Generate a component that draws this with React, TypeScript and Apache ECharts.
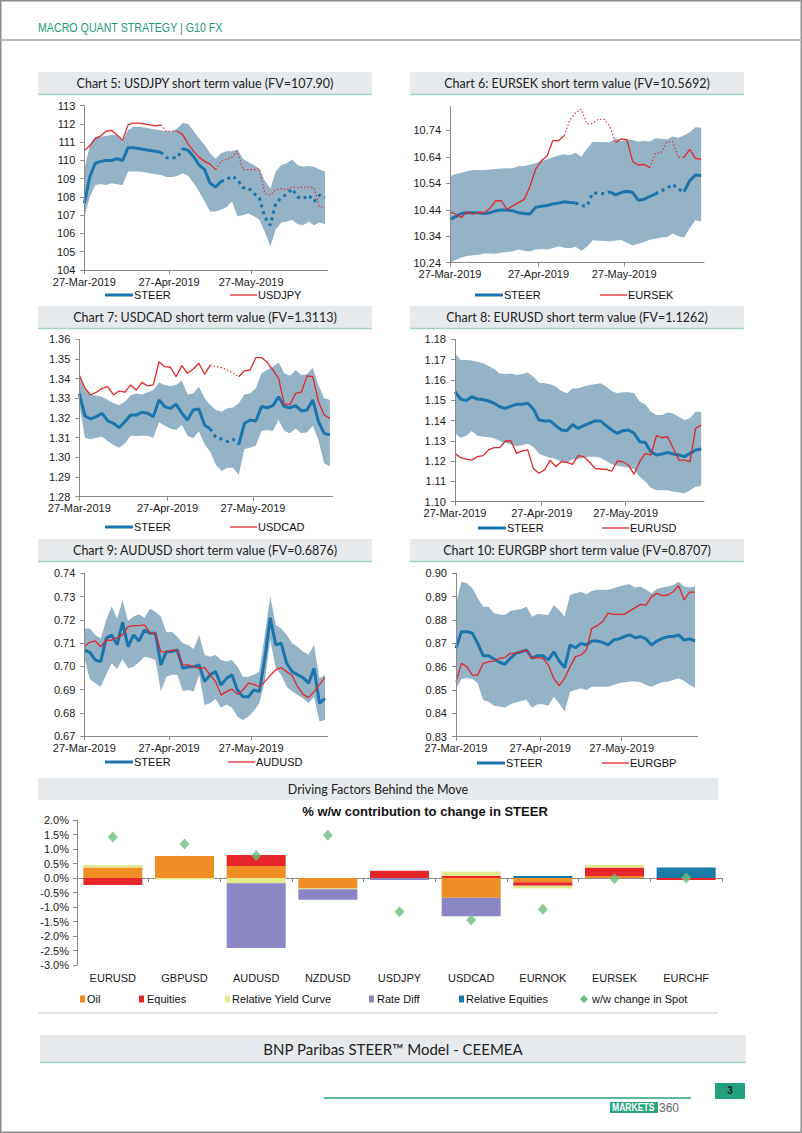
import React, { useEffect, useRef } from "react";
import * as echarts from "echarts";

// ---------- shared x sampling (days since 27-Mar-2019) ----------
const DAYS = [0, 2, 4, 6, 8, 10, 12, 14, 16, 18, 20, 22, 24, 26, 28, 30, 32, 34, 36, 38, 40, 42, 44, 46, 48, 50, 52, 54, 56, 58, 60, 62, 64, 66, 68, 70, 72, 74, 76, 78, 80, 82, 84, 86, 88];
const DATE_TICKS = [0, 31, 61];
const DATE_LABELS = ["27-Mar-2019", "27-Apr-2019", "27-May-2019"];

// ---------- Chart 5: USDJPY ----------
const usdjpySteer = [107.65, 109.1, 109.85, 109.95, 110.0, 110.0, 110.1, 110.0, 110.7, 110.7, 110.65, 110.6, 110.55, 110.5, 110.45, 110.15, 110.15, 110.15, 110.65, 110.55, 110.2, 109.75, 109.5, 108.75, 108.55, 108.85, 108.95, 109.15, 108.95, 108.5, 108.5, 108.2, 107.95, 106.9, 106.45, 107.65, 107.95, 108.15, 108.45, 108.0, 107.9, 108.1, 107.75, 108.1, 107.95];
const usdjpySpot = [110.55, 110.8, 111.2, 111.35, 111.6, 111.65, 111.4, 111.1, 111.95, 112.05, 112.05, 112.0, 111.95, 111.9, 111.95, 111.6, 111.6, 111.6, 111.4, 110.9, 110.5, 110.17, 109.95, 109.8, 109.5, 109.95, 110.05, 110.2, 110.5, 109.5, 109.5, 109.5, 109.55, 108.2, 108.1, 108.4, 108.45, 108.4, 108.55, 108.5, 108.55, 108.55, 108.5, 107.45, 107.45];
const usdjpyUpper = [109.5, 110.8, 111.3, 111.3, 111.35, 111.4, 111.4, 111.1, 111.65, 111.85, 111.85, 111.8, 111.75, 111.7, 111.65, 111.6, 111.6, 111.75, 112.05, 112.0, 111.6, 111.2, 110.85, 110.4, 110.1, 110.4, 110.5, 110.5, 110.6, 110.1, 109.9, 109.75, 109.55, 108.9, 108.45, 109.4, 109.75, 109.85, 110.05, 109.75, 109.65, 109.7, 109.65, 109.5, 109.4];
const usdjpyLower = [106.9, 108.0, 108.65, 108.7, 108.65, 108.75, 108.7, 108.65, 109.4, 109.4, 109.4, 109.35, 109.3, 109.25, 109.2, 109.1, 109.1, 109.15, 109.3, 109.15, 108.75, 108.3, 107.75, 107.2, 107.2, 107.3, 107.45, 107.75, 106.95, 107.0, 107.1, 106.95, 106.75, 106.1, 105.3, 106.2, 106.6, 106.65, 106.75, 106.5, 106.45, 106.65, 106.45, 106.6, 106.5];

// ---------- Chart 6: EURSEK ----------
const eursekSteer = [10.404, 10.414, 10.426, 10.429, 10.429, 10.429, 10.426, 10.429, 10.436, 10.439, 10.439, 10.436, 10.429, 10.426, 10.424, 10.449, 10.453, 10.456, 10.462, 10.465, 10.47, 10.467, 10.466, 10.455, 10.454, 10.504, 10.502, 10.5, 10.508, 10.496, 10.505, 10.51, 10.505, 10.476, 10.48, 10.49, 10.5, 10.512, 10.52, 10.537, 10.518, 10.508, 10.55, 10.571, 10.569];
const eursekSpot = [10.433, 10.423, 10.411, 10.433, 10.423, 10.43, 10.429, 10.445, 10.474, 10.474, 10.441, 10.455, 10.467, 10.479, 10.527, 10.593, 10.625, 10.643, 10.701, 10.701, 10.72, 10.779, 10.807, 10.82, 10.764, 10.766, 10.782, 10.782, 10.754, 10.693, 10.708, 10.705, 10.622, 10.609, 10.611, 10.599, 10.653, 10.656, 10.697, 10.697, 10.638, 10.638, 10.668, 10.634, 10.63];
const eursekUpper = [10.567, 10.575, 10.58, 10.585, 10.59, 10.59, 10.59, 10.592, 10.594, 10.596, 10.597, 10.597, 10.604, 10.605, 10.61, 10.616, 10.625, 10.63, 10.638, 10.645, 10.65, 10.646, 10.655, 10.64, 10.67, 10.697, 10.696, 10.695, 10.695, 10.71, 10.7, 10.705, 10.703, 10.697, 10.7, 10.698, 10.71, 10.708, 10.705, 10.717, 10.712, 10.72, 10.733, 10.752, 10.75];
const eursekLower = [10.24, 10.25, 10.26, 10.265, 10.268, 10.27, 10.275, 10.275, 10.274, 10.278, 10.28, 10.283, 10.29, 10.285, 10.282, 10.29, 10.292, 10.29, 10.295, 10.302, 10.296, 10.295, 10.3, 10.285, 10.3, 10.325, 10.323, 10.322, 10.32, 10.324, 10.326, 10.315, 10.305, 10.312, 10.318, 10.327, 10.33, 10.335, 10.337, 10.35, 10.34, 10.335, 10.37, 10.4, 10.396];

// ---------- Chart 7: USDCAD ----------
const usdcadSteer = [1.3325, 1.321, 1.3195, 1.3207, 1.3224, 1.3185, 1.3173, 1.3151, 1.3181, 1.3215, 1.3215, 1.3229, 1.3224, 1.3207, 1.3292, 1.3258, 1.3249, 1.327, 1.3225, 1.319, 1.3241, 1.3246, 1.3164, 1.3144, 1.31, 1.3093, 1.308, 1.3092, 1.3065, 1.3173, 1.319, 1.3185, 1.3258, 1.3252, 1.3263, 1.3308, 1.3258, 1.3252, 1.3263, 1.3236, 1.3241, 1.3292, 1.3181, 1.3122, 1.3114];
const usdcadSpot = [1.3419, 1.3351, 1.3317, 1.3331, 1.3351, 1.3359, 1.3317, 1.3337, 1.3331, 1.3368, 1.3342, 1.3381, 1.3363, 1.3368, 1.3486, 1.3461, 1.3458, 1.341, 1.3466, 1.3427, 1.3449, 1.3478, 1.3422, 1.3469, 1.3461, 1.3456, 1.3444, 1.3427, 1.341, 1.344, 1.3444, 1.3507, 1.3507, 1.3483, 1.3444, 1.3402, 1.3269, 1.3269, 1.3325, 1.3331, 1.3414, 1.341, 1.3283, 1.3215, 1.3198];
const usdcadUpper = [1.341, 1.3342, 1.3317, 1.3314, 1.3308, 1.3292, 1.3275, 1.3266, 1.3283, 1.3314, 1.3325, 1.332, 1.3331, 1.3342, 1.3381, 1.3368, 1.3363, 1.3368, 1.339, 1.332, 1.3325, 1.3359, 1.33, 1.3266, 1.3241, 1.3232, 1.3249, 1.3253, 1.3275, 1.332, 1.3325, 1.3351, 1.3427, 1.3444, 1.3461, 1.3483, 1.3427, 1.3415, 1.3444, 1.3419, 1.3422, 1.3456, 1.3368, 1.33, 1.3292];
const usdcadLower = [1.3266, 1.31, 1.3092, 1.31, 1.3105, 1.3083, 1.3063, 1.3049, 1.3071, 1.311, 1.3108, 1.311, 1.311, 1.31, 1.3178, 1.3161, 1.3147, 1.3139, 1.3164, 1.311, 1.3097, 1.3131, 1.3066, 1.3029, 1.2961, 1.2931, 1.2947, 1.2947, 1.291, 1.3042, 1.3049, 1.3059, 1.3134, 1.3139, 1.3134, 1.319, 1.3134, 1.3122, 1.3147, 1.3122, 1.3127, 1.3161, 1.3088, 1.297, 1.2954];

// ---------- Chart 8: EURUSD ----------
const eurusdSteer = [1.1542, 1.1506, 1.1498, 1.1517, 1.1506, 1.1503, 1.1496, 1.1485, 1.1468, 1.146, 1.1471, 1.148, 1.148, 1.1485, 1.1457, 1.1402, 1.1398, 1.1398, 1.1375, 1.1353, 1.135, 1.138, 1.1361, 1.1375, 1.1386, 1.1398, 1.1398, 1.1375, 1.1353, 1.1337, 1.135, 1.1353, 1.1337, 1.1296, 1.1292, 1.1246, 1.123, 1.1235, 1.1243, 1.1235, 1.123, 1.1222, 1.1238, 1.1255, 1.126];
const eurusdSpot = [1.1238, 1.1217, 1.121, 1.1205, 1.1222, 1.1227, 1.1255, 1.1266, 1.1266, 1.1299, 1.1299, 1.1238, 1.125, 1.1255, 1.1164, 1.114, 1.1156, 1.1205, 1.1172, 1.1197, 1.1194, 1.1184, 1.1227, 1.1222, 1.1197, 1.1164, 1.1161, 1.1159, 1.1151, 1.12, 1.1197, 1.1181, 1.1135, 1.1197, 1.1238, 1.123, 1.1325, 1.1315, 1.132, 1.1263, 1.1205, 1.1205, 1.1197, 1.1361, 1.1378];
const eurusdUpper = [1.1731, 1.1698, 1.1698, 1.1695, 1.169, 1.1682, 1.1669, 1.1654, 1.1632, 1.1629, 1.1632, 1.1624, 1.1629, 1.1637, 1.1616, 1.1586, 1.1583, 1.1578, 1.1567, 1.1545, 1.1534, 1.1558, 1.1558, 1.1567, 1.1575, 1.1578, 1.1583, 1.1567, 1.1545, 1.1534, 1.1539, 1.1539, 1.1534, 1.1493, 1.148, 1.1443, 1.1427, 1.1427, 1.144, 1.1435, 1.1419, 1.1402, 1.1411, 1.1443, 1.1443];
const eurusdLower = [1.1337, 1.1315, 1.1325, 1.1348, 1.1325, 1.132, 1.1317, 1.1312, 1.1299, 1.1289, 1.1283, 1.1273, 1.1279, 1.1286, 1.1271, 1.1238, 1.1225, 1.1217, 1.121, 1.1197, 1.1191, 1.121, 1.1209, 1.1217, 1.1222, 1.1222, 1.1217, 1.12, 1.1184, 1.1177, 1.1172, 1.1168, 1.1161, 1.1123, 1.1099, 1.1069, 1.1057, 1.1057, 1.1057, 1.1049, 1.1046, 1.1041, 1.1057, 1.1074, 1.1077];

// ---------- Chart 9: AUDUSD ----------
const audusdSteer = [0.707, 0.706, 0.7027, 0.702, 0.712, 0.7135, 0.7092, 0.7189, 0.7084, 0.7135, 0.7109, 0.7156, 0.7142, 0.7142, 0.7006, 0.7063, 0.7063, 0.707, 0.6991, 0.6998, 0.6998, 0.7006, 0.6934, 0.6963, 0.6977, 0.6919, 0.6948, 0.6963, 0.6898, 0.6869, 0.6869, 0.6898, 0.6891, 0.7034, 0.7209, 0.7092, 0.7099, 0.7013, 0.6977, 0.6963, 0.6951, 0.6927, 0.6991, 0.6841, 0.6862];
const audusdSpot = [0.7084, 0.7103, 0.7109, 0.7084, 0.7112, 0.7112, 0.7123, 0.7135, 0.7171, 0.7175, 0.7175, 0.7178, 0.7146, 0.7142, 0.7063, 0.706, 0.707, 0.7066, 0.7006, 0.7006, 0.6998, 0.6991, 0.6994, 0.6963, 0.6934, 0.6876, 0.6891, 0.6902, 0.6879, 0.6898, 0.6927, 0.6922, 0.6912, 0.6934, 0.696, 0.6984, 0.6994, 0.6977, 0.696, 0.6912, 0.6879, 0.6865, 0.6891, 0.6922, 0.6951];
const audusdUpper = [0.7163, 0.7163, 0.7135, 0.712, 0.7199, 0.7257, 0.7206, 0.7285, 0.7195, 0.7214, 0.7224, 0.7209, 0.7247, 0.7235, 0.7214, 0.7146, 0.7149, 0.7127, 0.7099, 0.7092, 0.7074, 0.7135, 0.7049, 0.7041, 0.7049, 0.7027, 0.702, 0.7027, 0.6998, 0.6955, 0.6955, 0.6963, 0.6977, 0.7135, 0.73, 0.7178, 0.7163, 0.7135, 0.7099, 0.7084, 0.7063, 0.7051, 0.7092, 0.6948, 0.6963];
const audusdLower = [0.7034, 0.6945, 0.6927, 0.6912, 0.6963, 0.7013, 0.6988, 0.7031, 0.6991, 0.6998, 0.7017, 0.7041, 0.7037, 0.7027, 0.6891, 0.6955, 0.6963, 0.6963, 0.6894, 0.6898, 0.6891, 0.6963, 0.6833, 0.6841, 0.6859, 0.6822, 0.6836, 0.6822, 0.6783, 0.6769, 0.6783, 0.6808, 0.6841, 0.6934, 0.7113, 0.6991, 0.6963, 0.6912, 0.6891, 0.6876, 0.6862, 0.6841, 0.6869, 0.6762, 0.6769];

// ---------- Chart 10: EURGBP ----------
const eurgbpSteer = [0.8679, 0.875, 0.875, 0.8743, 0.87, 0.8647, 0.8647, 0.8633, 0.8619, 0.861, 0.8636, 0.8657, 0.8664, 0.8671, 0.8636, 0.8647, 0.8647, 0.8629, 0.8664, 0.8624, 0.8596, 0.8693, 0.8681, 0.87, 0.8693, 0.871, 0.871, 0.8704, 0.8693, 0.8714, 0.8719, 0.8729, 0.8736, 0.8724, 0.8729, 0.8719, 0.8693, 0.871, 0.8721, 0.8729, 0.8729, 0.8736, 0.8714, 0.8719, 0.871];
const eurgbpSpot = [0.8536, 0.8614, 0.86, 0.8564, 0.8564, 0.8614, 0.8621, 0.8624, 0.8636, 0.8639, 0.8657, 0.8657, 0.8664, 0.8671, 0.8636, 0.8639, 0.8636, 0.8607, 0.855, 0.8519, 0.855, 0.86, 0.8643, 0.865, 0.8671, 0.8764, 0.8776, 0.8793, 0.8829, 0.8824, 0.8824, 0.8824, 0.8839, 0.8853, 0.8867, 0.8864, 0.89, 0.8914, 0.8904, 0.8907, 0.8921, 0.8947, 0.8886, 0.8919, 0.8919];
const eurgbpUpper = [0.8871, 0.8964, 0.8957, 0.8936, 0.8893, 0.8857, 0.8857, 0.8829, 0.8824, 0.8821, 0.8839, 0.8843, 0.8847, 0.8857, 0.8814, 0.8826, 0.8824, 0.8821, 0.8864, 0.8843, 0.8814, 0.8907, 0.8914, 0.8921, 0.891, 0.8924, 0.8929, 0.8929, 0.8929, 0.8936, 0.8943, 0.895, 0.8953, 0.8939, 0.8943, 0.8929, 0.8914, 0.8933, 0.8939, 0.8943, 0.895, 0.8964, 0.8943, 0.8939, 0.8943];
const eurgbpLower = [0.8507, 0.8547, 0.855, 0.8547, 0.8529, 0.8457, 0.845, 0.8433, 0.8429, 0.8424, 0.8439, 0.8447, 0.8453, 0.8457, 0.8424, 0.8439, 0.8439, 0.8433, 0.8471, 0.8443, 0.8407, 0.8493, 0.85, 0.8507, 0.85, 0.8514, 0.8514, 0.8514, 0.8514, 0.8521, 0.8529, 0.8533, 0.8536, 0.8536, 0.8533, 0.8521, 0.8514, 0.8526, 0.8533, 0.8536, 0.8543, 0.855, 0.8539, 0.8521, 0.851];

// ---------- Driving factors bar chart ----------
const FACTOR_CATS = ["EURUSD", "GBPUSD", "AUDUSD", "NZDUSD", "USDJPY", "USDCAD", "EURNOK", "EURSEK", "EURCHF"];
const oilContrib = [0.36, 0.76, 0.41, -0.36, 0, -0.68, -0.15, 0.07, 0];
const equitiesContrib = [-0.24, 0, 0.38, 0, 0.25, 0.07, -0.12, 0.29, -0.07];
const yieldCurveContrib = [0.09, -0.05, -0.18, -0.03, 0, 0.15, -0.09, 0.09, 0];
const rateDiffContrib = [0, 0, -2.23, -0.36, -0.07, -0.64, 0, 0, 0];
const relEquitiesContrib = [0, 0, 0, 0, 0, 0, 0.07, 0, 0.36];
const spotChange = [1.41, 1.17, 0.78, 1.47, -1.16, -1.45, -1.08, -0.03, 0.0];
const FACTOR_TICKS = [2.0, 1.5, 1.0, 0.5, 0.0, -0.5, -1.0, -1.5, -2.0, -2.5, -3.0];

// ---------- styling ----------
const AX_FONT = '"Liberation Sans", Arial, sans-serif';
const TITLE_FONT = 'Lato, "Noto Sans", sans-serif';
const STEER_COLOR = "#1b74ac";
const SPOT_COLOR = "#e4262b";
const BAND_COLOR = "#94b3c6";
const AXIS_COLOR = "#8a8a8a";
const BOX_FILL = "#e7eaed";
const TEAL = "#23a07d";

const PANELS = [
  { title: "Chart 5: USDJPY short term value (FV=107.90)", spotName: "USDJPY", steer: usdjpySteer, spot: usdjpySpot, upper: usdjpyUpper, lower: usdjpyLower,
    steerDotted: [[28, 36], [50, 88]], spotDotted: [[28, 34], [48, 88]], yMin: 104, yMax: 113, yStep: 1, dec: 0,
    grid: { left: 84.3, top: 105.7, width: 243.4, height: 164.3 }, box: { x: 38, y: 72 }, legY: 295, legSteerX: 105, legSpotX: 230 },
  { title: "Chart 6: EURSEK short term value (FV=10.5692)", spotName: "EURSEK", steer: eursekSteer, spot: eursekSpot, upper: eursekUpper, lower: eursekLower,
    steerDotted: [[44, 56], [72, 82]], spotDotted: [[40, 58], [70, 82]], yMin: 10.24, yMax: 10.83, yStep: 0.1, dec: 2,
    grid: { left: 450, top: 106.5, width: 254, height: 156.2 }, box: { x: 410, y: 72 }, legY: 295, legSteerX: 475, legSpotX: 600 },
  { title: "Chart 7: USDCAD short term value (FV=1.3113)", spotName: "USDCAD", steer: usdcadSteer, spot: usdcadSpot, upper: usdcadUpper, lower: usdcadLower,
    steerDotted: [[46, 56]], spotDotted: [[46, 56]], yMin: 1.28, yMax: 1.36, yStep: 0.01, dec: 2,
    grid: { left: 79.3, top: 339.3, width: 253.4, height: 157.4 }, box: { x: 38, y: 306 }, legY: 527, legSteerX: 105, legSpotX: 230 },
  { title: "Chart 8: EURUSD short term value (FV=1.1262)", spotName: "EURUSD", steer: eurusdSteer, spot: eurusdSpot, upper: eurusdUpper, lower: eurusdLower,
    steerDotted: [], spotDotted: [], yMin: 1.1, yMax: 1.18, yStep: 0.01, dec: 2,
    grid: { left: 455, top: 339.3, width: 249, height: 162.4 }, box: { x: 410, y: 306 }, legY: 528, legSteerX: 478, legSpotX: 602 },
  { title: "Chart 9: AUDUSD short term value (FV=0.6876)", spotName: "AUDUSD", steer: audusdSteer, spot: audusdSpot, upper: audusdUpper, lower: audusdLower,
    steerDotted: [], spotDotted: [], yMin: 0.67, yMax: 0.74, yStep: 0.01, dec: 2,
    grid: { left: 84.3, top: 573.3, width: 243.4, height: 162.7 }, box: { x: 38, y: 539 }, legY: 762, legSteerX: 105, legSpotX: 228 },
  { title: "Chart 10: EURGBP short term value (FV=0.8707)", spotName: "EURGBP", steer: eurgbpSteer, spot: eurgbpSpot, upper: eurgbpUpper, lower: eurgbpLower,
    steerDotted: [], spotDotted: [], yMin: 0.83, yMax: 0.9, yStep: 0.01, dec: 2,
    grid: { left: 456, top: 573.3, width: 241.7, height: 163.4 }, box: { x: 410, y: 539 }, legY: 763, legSteerX: 477, legSpotX: 602 },
];

function segment(vals: number[], ranges: number[][], dotted: boolean) {
  return DAYS.map((d, k) => {
    const inDot = ranges.some(([a, b]) => (dotted ? d >= a && d <= b : d > a && d < b));
    const keep = dotted ? inDot : !inDot;
    return [d, keep ? vals[k] : null];
  });
}

function tickValues(min: number, max: number, step: number, dec: number) {
  const out: number[] = [];
  for (let k = 0; min + k * step <= max + 1e-9; k++) out.push(Number((min + k * step).toFixed(dec + 2)));
  return out;
}

function buildOption() {
  const grids: any[] = [];
  const xAxes: any[] = [];
  const yAxes: any[] = [];
  const series: any[] = [];
  const graphics: any[] = [];

  // page frame & header
  graphics.push({ type: "rect", shape: { x: 0.75, y: 0.75, width: 800.5, height: 1131.5 }, style: { fill: "none", stroke: "#8c8c8c", lineWidth: 1.5 }, silent: true });
  graphics.push({ type: "line", shape: { x1: 0, y1: 40, x2: 802, y2: 40 }, style: { stroke: "#a3a3a3", lineWidth: 1.5 }, silent: true });
  graphics.push({ type: "text", x: 38, y: 28, scaleX: 0.82, style: { text: "MACRO QUANT STRATEGY | G10 FX", font: `13px ${AX_FONT}`, fill: "#1f9b74", textVerticalAlign: "middle" } });

  PANELS.forEach((p, i) => {
    grids.push({ ...p.grid });
    xAxes.push({
      type: "value", gridIndex: i, min: 0, max: 89, z: 5,
      axisLine: { lineStyle: { color: AXIS_COLOR, width: 1 } },
      axisTick: { show: true, customValues: DATE_TICKS, length: 4, lineStyle: { color: AXIS_COLOR } },
      axisLabel: { customValues: DATE_TICKS, margin: 6, fontFamily: AX_FONT, fontSize: 11, color: "#1a1a1a",
        formatter: (v: number) => DATE_LABELS[DATE_TICKS.indexOf(Math.round(v))] || "" },
      splitLine: { show: false },
    });
    const ticks = tickValues(p.yMin, p.yMax, p.yStep, p.dec);
    yAxes.push({
      type: "value", gridIndex: i, min: p.yMin, max: p.yMax, z: 5,
      axisLine: { show: true, lineStyle: { color: AXIS_COLOR, width: 1 } },
      axisTick: { show: true, customValues: ticks, length: 4, lineStyle: { color: AXIS_COLOR } },
      axisLabel: { customValues: ticks, margin: 9, fontFamily: AX_FONT, fontSize: 11, color: "#1a1a1a",
        formatter: (v: number) => v.toFixed(p.dec) },
      splitLine: { show: false },
    });
    // shaded STEER range (band between lower and upper)
    series.push({
      type: "custom", name: `range-${i}`, xAxisIndex: i, yAxisIndex: i, silent: true, z: 1,
      data: [[0, p.yMin]],
      renderItem: (_params: any, api: any) => {
        const top = DAYS.map((d, k) => api.coord([d, p.upper[k]]));
        const bottom = DAYS.map((d, k) => api.coord([d, p.lower[k]])).reverse();
        return { type: "polygon", shape: { points: top.concat(bottom) }, style: { fill: BAND_COLOR } };
      },
    });
    const common = { xAxisIndex: i, yAxisIndex: i, type: "line", symbol: "none", showSymbol: false, silent: true };
    series.push({ ...common, name: "STEER", data: segment(p.steer, p.steerDotted, false), lineStyle: { color: STEER_COLOR, width: 3 }, z: 3 });
    if (p.steerDotted.length)
      series.push({ ...common, name: "STEER", data: segment(p.steer, p.steerDotted, true), lineStyle: { color: STEER_COLOR, width: 3, type: [3, 4] }, z: 3 });
    series.push({ ...common, name: p.spotName, data: segment(p.spot, p.spotDotted, false), lineStyle: { color: SPOT_COLOR, width: 1.3 }, z: 4 });
    if (p.spotDotted.length)
      series.push({ ...common, name: p.spotName, data: segment(p.spot, p.spotDotted, true), lineStyle: { color: SPOT_COLOR, width: 1.1, type: [1.5, 2] }, z: 4 });

    // title box
    graphics.push({ type: "rect", shape: { x: p.box.x, y: p.box.y, width: 334, height: 22 }, style: { fill: BOX_FILL }, silent: true });
    graphics.push({ type: "line", shape: { x1: p.box.x, y1: p.box.y + 22.5, x2: p.box.x + 334, y2: p.box.y + 22.5 }, style: { stroke: "#9fd3c3", lineWidth: 1.5 }, silent: true });
    graphics.push({ type: "text", x: p.box.x + 167, y: p.box.y + 11.5, style: { text: p.title, font: `12.5px ${TITLE_FONT}`, fill: "#222", textAlign: "center", textVerticalAlign: "middle" } });
    // legend
    graphics.push({ type: "line", shape: { x1: p.legSteerX, y1: p.legY, x2: p.legSteerX + 28, y2: p.legY }, style: { stroke: STEER_COLOR, lineWidth: 3 }, silent: true });
    graphics.push({ type: "text", x: p.legSteerX + 29, y: p.legY, style: { text: "STEER", font: `11px ${AX_FONT}`, fill: "#111", textVerticalAlign: "middle" } });
    graphics.push({ type: "line", shape: { x1: p.legSpotX, y1: p.legY, x2: p.legSpotX + 27, y2: p.legY }, style: { stroke: SPOT_COLOR, lineWidth: 1.3 }, silent: true });
    graphics.push({ type: "text", x: p.legSpotX + 28, y: p.legY, style: { text: p.spotName, font: `11px ${AX_FONT}`, fill: "#111", textVerticalAlign: "middle" } });
  });

  // ----- bar chart -----
  const gi = PANELS.length;
  grids.push({ left: 77, top: 820, width: 645, height: 145 });
  xAxes.push({
    type: "category", gridIndex: gi, data: FACTOR_CATS,
    axisLine: { onZero: true, lineStyle: { color: AXIS_COLOR, width: 1 } },
    axisTick: { show: true, interval: 0, length: 4, lineStyle: { color: AXIS_COLOR } },
    axisLabel: { show: false }, splitLine: { show: false },
  });
  xAxes.push({
    type: "category", gridIndex: gi, data: FACTOR_CATS, position: "bottom",
    axisLine: { show: false, onZero: false }, axisTick: { show: false },
    axisLabel: { interval: 0, margin: 7, fontFamily: AX_FONT, fontSize: 11, color: "#1a1a1a" }, splitLine: { show: false },
  });
  yAxes.push({
    type: "value", gridIndex: gi, min: -3, max: 2, interval: 0.5,
    axisLine: { show: true, lineStyle: { color: AXIS_COLOR, width: 1 } },
    axisTick: { show: true, length: 4, customValues: FACTOR_TICKS, lineStyle: { color: AXIS_COLOR } },
    axisLabel: { margin: 8, fontFamily: AX_FONT, fontSize: 11, color: "#1a1a1a", formatter: (v: number) => v.toFixed(1) + "%" },
    splitLine: { show: false },
  });
  const factorDefs = [
    { name: "Oil", data: oilContrib, color: "#f18d25" },
    { name: "Equities", data: equitiesContrib, color: "#e6262b" },
    { name: "Relative Yield Curve", data: yieldCurveContrib, color: "#e4e98c" },
    { name: "Rate Diff", data: rateDiffContrib, color: "#8b87c5" },
    { name: "Relative Equities", data: relEquitiesContrib, color: "#1b7ba7" },
  ];
  factorDefs.forEach((f) => {
    series.push({ type: "bar", name: f.name, xAxisIndex: gi, yAxisIndex: gi, stack: "factors", data: f.data, barWidth: 59,
      itemStyle: { color: f.color }, silent: true, z: 2 });
  });
  series.push({ type: "scatter", name: "w/w change in Spot", xAxisIndex: gi, yAxisIndex: gi, data: spotChange, symbol: "diamond",
    symbolSize: [10, 11], itemStyle: { color: "#6bbf80" }, silent: true, z: 5 });

  // bar chart frame and titles
  graphics.push({ type: "rect", shape: { x: 38, y: 778, width: 680, height: 22 }, style: { fill: BOX_FILL }, silent: true });
  graphics.push({ type: "text", x: 378, y: 789.5, style: { text: "Driving Factors Behind the Move", font: `12.5px ${TITLE_FONT}`, fill: "#222", textAlign: "center", textVerticalAlign: "middle" } });
  graphics.push({ type: "line", shape: { x1: 38, y1: 1013, x2: 718, y2: 1013 }, style: { stroke: "#e1e4e7", lineWidth: 2 }, silent: true });
  graphics.push({ type: "text", x: 425, y: 811, style: { text: "% w/w contribution to change in STEER", font: `bold 13px ${AX_FONT}`, fill: "#111", textAlign: "center", textVerticalAlign: "middle" } });
  const legendItems = [
    { name: "Oil", color: "#f18d25", mx: 80, tx: 87 },
    { name: "Equities", color: "#e6262b", mx: 139, tx: 147 },
    { name: "Relative Yield Curve", color: "#e4e98c", mx: 225, tx: 232 },
    { name: "Rate Diff", color: "#8b87c5", mx: 369, tx: 377 },
    { name: "Relative Equities", color: "#1b7ba7", mx: 459, tx: 466 },
  ];
  legendItems.forEach((l) => {
    graphics.push({ type: "rect", shape: { x: l.mx, y: 995.5, width: 5, height: 7 }, style: { fill: l.color }, silent: true });
    graphics.push({ type: "text", x: l.tx, y: 999, style: { text: l.name, font: `11px ${AX_FONT}`, fill: "#111", textVerticalAlign: "middle" } });
  });
  graphics.push({ type: "polygon", shape: { points: [[584, 995], [588, 999], [584, 1003], [580, 999]] }, style: { fill: "#6bbf80" }, silent: true });
  graphics.push({ type: "text", x: 592, y: 999, style: { text: "w/w change in Spot", font: `11px ${AX_FONT}`, fill: "#111", textVerticalAlign: "middle" } });

  // footer
  graphics.push({ type: "rect", shape: { x: 40, y: 1035, width: 706, height: 27 }, style: { fill: BOX_FILL }, silent: true });
  graphics.push({ type: "line", shape: { x1: 40, y1: 1062.5, x2: 746, y2: 1062.5 }, style: { stroke: "#9fd3c3", lineWidth: 1.5 }, silent: true });
  graphics.push({ type: "text", x: 393, y: 1049, style: { text: "BNP Paribas STEER\u2122 Model - CEEMEA", font: `15px ${TITLE_FONT}`, fill: "#222", textAlign: "center", textVerticalAlign: "middle" } });
  graphics.push({ type: "line", shape: { x1: 324, y1: 1098, x2: 691, y2: 1098 }, style: { stroke: TEAL, lineWidth: 1.5 }, silent: true });
  graphics.push({ type: "rect", shape: { x: 715, y: 1083, width: 30, height: 16 }, style: { fill: TEAL }, silent: true });
  graphics.push({ type: "text", x: 730, y: 1090, style: { text: "3", font: `bold 10px ${AX_FONT}`, fill: "#1a1a1a", textAlign: "center", textVerticalAlign: "middle" } });
  graphics.push({ type: "rect", shape: { x: 610, y: 1102, width: 48, height: 11 }, style: { fill: "#2aa57c" }, silent: true });
  graphics.push({ type: "text", x: 612, y: 1107.5, scaleX: 0.78, style: { text: "MARKETS", font: `bold 11px ${AX_FONT}`, fill: "#ffffff", textVerticalAlign: "middle" } });
  graphics.push({ type: "text", x: 659, y: 1107.5, style: { text: "360", font: `12px ${AX_FONT}`, fill: "#666", textVerticalAlign: "middle" } });

  return {
    animation: false,
    backgroundColor: "#ffffff",
    grid: grids,
    xAxis: xAxes,
    yAxis: yAxes,
    series,
    graphic: { elements: graphics },
  };
}

export default function App() {
  const ref = useRef<HTMLDivElement | null>(null);
  useEffect(() => {
    if (!ref.current) return;
    const chart = echarts.init(ref.current, undefined, { renderer: "svg", width: 802, height: 1133 });
    chart.setOption(buildOption() as any);
    return () => chart.dispose();
  }, []);
  return <div ref={ref} style={{ position: "absolute", left: 0, top: 0, width: 802, height: 1133 }} />;
}
